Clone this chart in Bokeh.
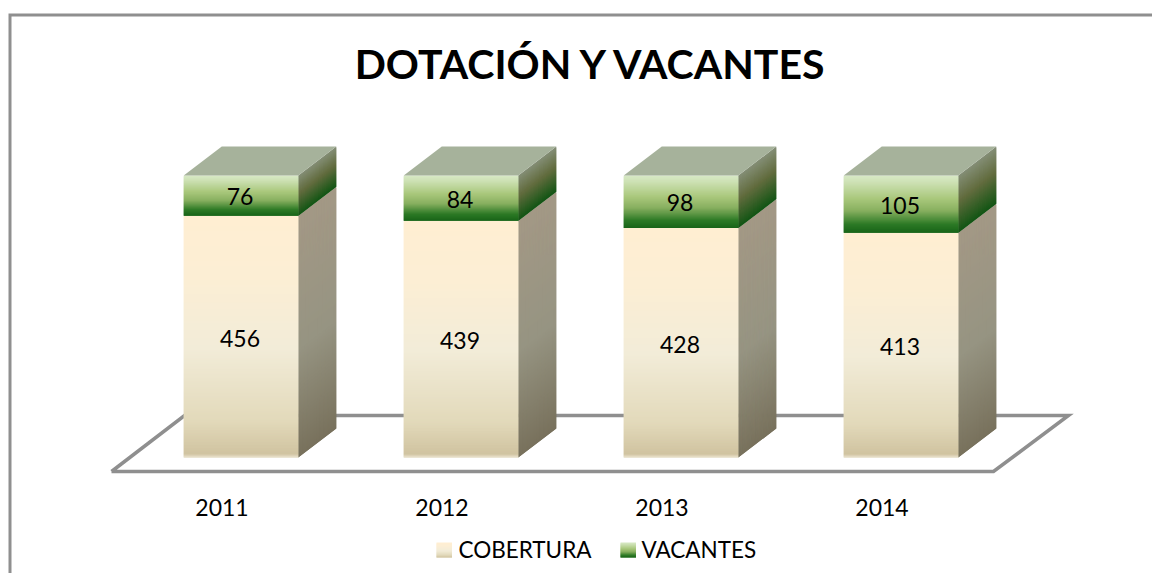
from bokeh.core.properties import value
from bokeh.embed import file_html
from bokeh.models import ColumnDataSource, FixedTicker, Range1d
from bokeh.plotting import figure
from bokeh.resources import INLINE

# ---- data ----
years = ["2011", "2012", "2013", "2014"]
cobertura = [456, 439, 428, 413]
vacantes = [76, 84, 98, 105]
title_text = "DOTACIÓN Y VACANTES"
series_names = ["COBERTURA", "VACANTES"]

# ---- styles ----
FONT = "Lato"
W, H = 1152, 573
LEFT, TOP = 0, 0                 # origin of the figure in the coordinates used below
X0, XSTEP = 221.5, 220.0         # x of first axis tick, px per category
Y0, YSPAN = 457.0, 282.0         # y of 0 %, px per 100 %
BAR_SHIFT, BAR_W = 19.0, 114.5   # front face centre relative to the tick; width
DX, DY = 38.0, 29.0              # 3-D depth
GRAY = "#8f8f8f"

COB_FRONT = [(0, (255, 238, 210)), (.25, (252, 238, 212)), (.55, (242, 236, 216)),
             (.85, (226, 217, 186)), (.985, (208, 195, 160)), (1, (236, 228, 208))]
VAC_FRONT = [(0, (216, 233, 198)), (.12, (205, 225, 180)), (.40, (170, 200, 125)),
             (.62, (135, 175, 95)), (.85, (45, 122, 38)), (1, (24, 100, 24))]
COB_SIDE = [(0, (163, 152, 133)), (.55, (150, 148, 130)), (1, (120, 113, 92))]
VAC_SIDE = [(0, (132, 142, 118)), (.45, (98, 108, 62)), (1, (18, 85, 20))]
TOP_FACE = "#a6b29b"


def px(x):
    return (x - X0) / XSTEP


def py(y):
    return (Y0 - y) / YSPAN


def ramp(stops, t):
    for (a, ca), (b, cb) in zip(stops, stops[1:]):
        if t <= b:
            u = (t - a) / (b - a) if b > a else 0
            return "#%02x%02x%02x" % tuple(round(p + (q - p) * u) for p, q in zip(ca, cb))
    return "#%02x%02x%02x" % stops[-1][1]


p = figure(width=W, height=H, output_backend="svg", toolbar_location=None,
           x_range=Range1d(px(LEFT), px(LEFT + W)),
           y_range=Range1d(py(TOP + H), py(TOP)),
           min_border=0, outline_line_color=None, tools="")
p.grid.visible = False
p.yaxis.visible = False
p.background_fill_color = "white"
p.border_fill_color = "white"

# outer chart border (only top and left show in the picture)
p.line([px(9.5), px(9.5), px(LEFT + W)], [py(TOP + H), py(14.5), py(14.5)],
       line_color=GRAY, line_width=3, line_join="miter")

# floor
p.line([px(111), px(993), px(1068), px(184), px(111)],
       [py(471), py(471), py(415), py(415), py(471)],
       line_color=GRAY, line_width=3.5, line_join="miter")

dx, dy = DX / XSTEP, DY / YSPAN
bw = BAR_W / XSTEP
shift = BAR_SHIFT / XSTEP


def segment(xl, f0, f1, front, side):
    """Front and side faces of one stacked segment, top to bottom gradient.
    Each band runs on under the next one, so that no seam shows."""
    n = max(8, int((f1 - f0) * YSPAN))
    step = (f1 - f0) / n
    xr = xl + bw
    fl, fr, ft, fb, fc = [], [], [], [], []
    sx, sy, sc = [], [], []
    for k in range(n):
        hi = f1 - step * k
        lo = f1 - step * min(k + 2, n)
        fl.append(xl); fr.append(xr); ft.append(hi); fb.append(lo)
        fc.append(ramp(front, (k + .5) / n))
        sx.append([xr, xr + dx, xr + dx, xr])
        sy.append([hi, hi + dy, lo + dy, lo])
        sc.append(ramp(side, (k + .5) / n))
    p.patches(source=ColumnDataSource(dict(xs=sx, ys=sy, c=sc)), xs="xs", ys="ys",
              fill_color="c", line_color=None)
    p.quad(source=ColumnDataSource(dict(l=fl, r=fr, t=ft, b=fb, c=fc)),
           left="l", right="r", top="t", bottom="b",
           fill_color="c", line_color=None)


lab_x, lab_y, lab_t = [], [], []
for i, (c, v) in enumerate(zip(cobertura, vacantes)):
    total = c + v
    split = c / total
    xl = i + shift - bw / 2
    segment(xl, 0.0, split, COB_FRONT, COB_SIDE)
    segment(xl, split, 1.0, VAC_FRONT, VAC_SIDE)
    p.patch([xl, xl + dx, xl + bw + dx, xl + bw], [1, 1 + dy, 1 + dy, 1],
            fill_color=TOP_FACE, line_color=None)
    lab_x += [i + shift - 1 / XSTEP] * 2
    lab_y += [split / 2 - 1.5 / YSPAN, (split + 1) / 2 - 1 / YSPAN]
    lab_t += [str(c), str(v)]

p.text(x=lab_x, y=lab_y, text=lab_t, text_align="center", text_baseline="middle",
       text_font=value(FONT), text_font_size="23px", text_color="#000000")

# title
p.text(x=[px(591.5)], y=[py(63)], text=[title_text], text_align="center",
       text_baseline="middle", text_font=value(FONT), text_font_style="bold",
       text_font_size="41px", text_color="#000000")

# category axis, drawn in the frame under the floor
ax = p.xaxis[0]
ax.ticker = FixedTicker(ticks=list(range(len(years))))
ax.major_label_overrides = {i: y for i, y in enumerate(years)}
ax.fixed_location = py(488)
ax.axis_line_color = None
ax.major_tick_line_color = None
ax.minor_tick_line_color = None
ax.major_label_standoff = 4
ax.major_label_text_font = FONT
ax.major_label_text_font_size = "23px"
ax.major_label_text_color = "#000000"

# legend (gradient swatches)
for name, sw_x, tx_x, stops in [(series_names[0], 436, 458, COB_FRONT),
                                (series_names[1], 620, 641, VAC_FRONT)]:
    n = 15
    p.quad(left=[px(sw_x)] * n, right=[px(sw_x + 15.5)] * n,
           top=[py(542 + 15 * k / n) for k in range(n)],
           bottom=[py(542 + 15 * min(k + 2, n) / n) for k in range(n)],
           fill_color=[ramp(stops, (k + .5) / n) for k in range(n)], line_color=None)
    p.text(x=[px(tx_x)], y=[py(549)], text=[name], text_align="left",
           text_baseline="middle", text_font=value(FONT), text_font_size="22.5px",
           text_color="#000000")

open("out.html", "w").write(file_html(p, INLINE))
